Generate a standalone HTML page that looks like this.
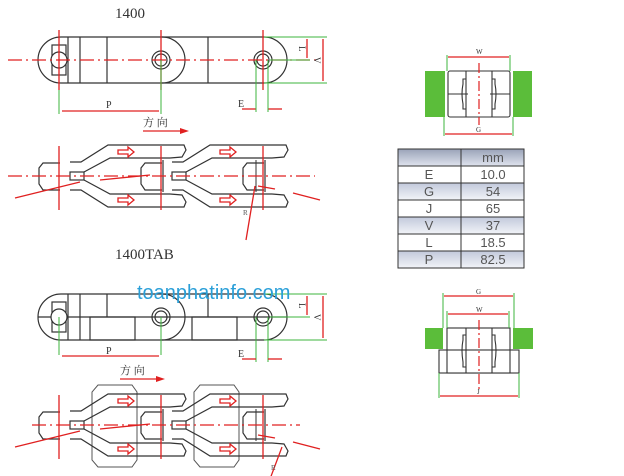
<!DOCTYPE html>
<html><head><meta charset="utf-8"><style>
html,body{margin:0;padding:0;background:#fff;}
svg{display:block;font-family:"Liberation Serif","Noto Serif CJK SC",serif;}
</style></head><body>
<svg width="624" height="476" viewBox="0 0 624 476" xmlns="http://www.w3.org/2000/svg">
<defs>
<g id="linkB" fill="none" stroke="#333" stroke-width="1.2">
  <polyline points="70,162 81,162 108,145 184,145 186,150 182,157 170,158"/>
  <polyline points="84,172 110,158 170,158"/>
  <polyline points="70,190 81,190 108,207 184,207 186,202 182,195 170,194"/>
  <polyline points="84,180 110,194 170,194"/>
  <polyline points="162,163 145,163 141,168 141,184 145,190 162,190"/>
  <rect x="70" y="172" width="14" height="8"/>
  <line x1="163" y1="160" x2="163" y2="192"/>
</g>
<g id="redB" stroke="#e02020" stroke-width="1.3" fill="#fff">
  <path d="M118,150 h10 v-3 l6,5 l-6,5 v-3 h-10z"/>
  <path d="M118,198 h10 v-3 l6,5 l-6,5 v-3 h-10z"/>
</g>
</defs>

<!-- ===== 1400 ===== -->
<text x="115" y="18" font-size="15" fill="#333">1400</text>
<g fill="none" stroke="#333" stroke-width="1.2">
  <path d="M61,37 H264 A23,23 0 0 1 264,83 H61 A23,23 0 0 1 61,37 Z"/>
  <path d="M162,37 A23,23 0 0 1 162,83"/>
  <line x1="68" y1="37" x2="68" y2="83"/><line x1="80" y1="37" x2="80" y2="83"/>
  <line x1="107" y1="37" x2="107" y2="83"/><line x1="208" y1="37" x2="208" y2="83"/>
  <rect x="52" y="45" width="14" height="30"/>
  <circle cx="59" cy="60" r="8" fill="#fff"/>
  <circle cx="161" cy="60" r="9"/><circle cx="161" cy="60" r="6"/>
  <circle cx="263" cy="60" r="9"/><circle cx="263" cy="60" r="6"/>
</g>
<g stroke="#e02020" stroke-width="1.3" fill="none">
  <line x1="8" y1="60" x2="320" y2="60" stroke-dasharray="14,4,2,4"/>
  <line x1="59" y1="30" x2="59" y2="90"/><line x1="161" y1="30" x2="161" y2="90"/><line x1="263" y1="30" x2="263" y2="90"/>
  <line x1="62" y1="111" x2="159" y2="111"/>
  <line x1="242" y1="109" x2="256" y2="109"/><line x1="268" y1="109" x2="282" y2="109"/>
  <line x1="307" y1="39" x2="307" y2="58"/><line x1="323" y1="39" x2="323" y2="81"/>
</g>
<g stroke="#3cb43c" stroke-width="1">
  <line x1="59" y1="90" x2="59" y2="114"/><line x1="161" y1="60" x2="161" y2="114"/>
  <line x1="256" y1="60" x2="256" y2="112"/><line x1="268" y1="60" x2="268" y2="112"/>
  <line x1="264" y1="37" x2="327" y2="37"/><line x1="270" y1="60" x2="310" y2="60"/><line x1="264" y1="83" x2="327" y2="83"/>
</g>
<text x="106" y="108" font-size="10" fill="#333">P</text>
<text x="238" y="107" font-size="10" fill="#333">E</text>
<text x="299" y="52" font-size="9" fill="#333" transform="rotate(90 302 49)">L</text>
<text x="314" y="63" font-size="9" fill="#333" transform="rotate(90 317 60)">V</text>
<text x="143" y="126" font-size="11" fill="#333">方 向</text>
<line x1="143" y1="131" x2="182" y2="131" stroke="#e02020" stroke-width="1.3"/>
<path d="M180,128 L189,131 L180,134Z" fill="#e02020"/>

<!-- bottom view 1 -->
<polyline points="60,163 43,163 39,168 39,184 43,190 60,190" fill="none" stroke="#333" stroke-width="1.2"/>
<use href="#linkB"/><use href="#linkB" x="102"/>
<line x1="256" y1="160" x2="256" y2="192" stroke="#333"/>
<use href="#redB"/><use href="#redB" x="102"/>
<g stroke="#e02020" stroke-width="1.3">
  <line x1="8" y1="176" x2="315" y2="176" stroke-dasharray="14,4,2,4"/>
  <line x1="59" y1="146" x2="59" y2="210"/><line x1="161" y1="146" x2="161" y2="210"/><line x1="263" y1="146" x2="263" y2="210"/>
  <line x1="15" y1="198" x2="80" y2="182"/><line x1="100" y1="180" x2="150" y2="175"/>
  <line x1="258" y1="186" x2="275" y2="189"/><line x1="293" y1="193" x2="320" y2="200"/>
  <line x1="255" y1="186" x2="246" y2="240"/>
</g>
<text x="243" y="215" font-size="7" fill="#555">R</text>

<!-- ===== 1400TAB ===== -->
<text x="115" y="259" font-size="15" fill="#333">1400TAB</text>
<g fill="none" stroke="#333" stroke-width="1.2">
  <path d="M61,294 H264 A23,23 0 0 1 264,340 H61 A23,23 0 0 1 61,294 Z"/>
  <path d="M162,294 A23,23 0 0 1 162,340"/>
  <line x1="68" y1="294" x2="68" y2="340"/><line x1="80" y1="294" x2="80" y2="340"/>
  <line x1="107" y1="294" x2="107" y2="317"/><line x1="208" y1="294" x2="208" y2="317"/>
  <line x1="38" y1="317" x2="287" y2="317"/>
  <rect x="90" y="317" width="45" height="23"/><rect x="192" y="317" width="45" height="23"/>
  <rect x="52" y="302" width="14" height="30"/>
  <circle cx="59" cy="317" r="8" fill="#fff"/>
  <circle cx="161" cy="317" r="9"/><circle cx="161" cy="317" r="6"/>
  <circle cx="263" cy="317" r="9"/><circle cx="263" cy="317" r="6"/>
</g>
<g stroke="#3cb43c" stroke-width="1">
  <line x1="59" y1="317" x2="59" y2="355"/><line x1="161" y1="317" x2="161" y2="355"/>
  <line x1="256" y1="317" x2="256" y2="362"/><line x1="268" y1="317" x2="268" y2="362"/>
  <line x1="264" y1="294" x2="327" y2="294"/><line x1="270" y1="317" x2="310" y2="317"/><line x1="264" y1="340" x2="327" y2="340"/>
</g>
<g stroke="#e02020" stroke-width="1.3">
  <line x1="62" y1="356" x2="159" y2="356"/>
  <line x1="242" y1="359" x2="256" y2="359"/><line x1="268" y1="359" x2="282" y2="359"/>
  <line x1="307" y1="296" x2="307" y2="315"/><line x1="323" y1="296" x2="323" y2="338"/>
</g>
<text x="106" y="354" font-size="10" fill="#333">P</text>
<text x="238" y="357" font-size="10" fill="#333">E</text>
<text x="299" y="309" font-size="9" fill="#333" transform="rotate(90 302 306)">L</text>
<text x="314" y="320" font-size="9" fill="#333" transform="rotate(90 317 317)">V</text>
<text x="120" y="374" font-size="11" fill="#333">方 向</text>
<line x1="120" y1="379" x2="158" y2="379" stroke="#e02020" stroke-width="1.3"/>
<path d="M156,376 L165,379 L156,382Z" fill="#e02020"/>

<!-- bottom view 2 (TAB) -->
<g fill="none" stroke="#555" stroke-width="1">
  <polygon points="98,385 132,385 137,392 137,460 132,467 98,467 92,460 92,392"/>
  <polygon points="200,385 234,385 239,392 239,460 234,467 200,467 194,460 194,392"/>
</g>
<g transform="translate(0,249)">
<polyline points="60,163 43,163 39,168 39,184 43,190 60,190" fill="#fff" stroke="#333" stroke-width="1.2"/>
<use href="#linkB"/><use href="#linkB" x="102"/>
<line x1="256" y1="160" x2="256" y2="192" stroke="#333"/>
<use href="#redB"/><use href="#redB" x="102"/>
<g stroke="#e02020" stroke-width="1.3">
  <line x1="32" y1="176" x2="300" y2="176" stroke-dasharray="14,4,2,4"/>
  <line x1="59" y1="146" x2="59" y2="210"/><line x1="161" y1="146" x2="161" y2="210"/><line x1="263" y1="146" x2="263" y2="210"/>
  <line x1="15" y1="198" x2="80" y2="182"/><line x1="100" y1="180" x2="150" y2="175"/>
  <line x1="258" y1="186" x2="275" y2="189"/><line x1="293" y1="193" x2="320" y2="200"/>
  <line x1="282" y1="198" x2="270" y2="230"/>
</g>
</g>
<text x="271" y="470" font-size="7" fill="#555">R</text>

<!-- watermark -->
<text x="137" y="299" font-size="20" fill="#2a9fd8" font-family="Liberation Sans, sans-serif">toanphatinfo.com</text>

<!-- ===== right top cross section ===== -->
<rect x="425" y="71" width="20" height="46" fill="#5bbd3a"/>
<rect x="513" y="71" width="19" height="46" fill="#5bbd3a"/>
<g fill="none" stroke="#333" stroke-width="1.1">
  <rect x="448" y="71" width="62" height="46" rx="2"/>
  <line x1="466" y1="71" x2="466" y2="117"/><line x1="492" y1="71" x2="492" y2="117"/>
  <line x1="448" y1="94" x2="468" y2="94"/><line x1="490" y1="94" x2="510" y2="94"/>
  <path d="M466,79 h-3 v5 q-2,10 0,20 v5 h3"/><path d="M492,79 h3 v5 q2,10 0,20 v5 h-3"/>
</g>
<g stroke="#3cb43c" stroke-width="1"><line x1="447" y1="55" x2="447" y2="71"/><line x1="510" y1="55" x2="510" y2="71"/><line x1="444" y1="117" x2="444" y2="136"/><line x1="513" y1="117" x2="513" y2="136"/></g>
<g stroke="#e02020" stroke-width="1.2">
  <line x1="448" y1="57" x2="509" y2="57"/><line x1="445" y1="134" x2="512" y2="134"/>
  <line x1="479" y1="63" x2="479" y2="125" stroke-dasharray="10,3,2,3"/>
</g>
<text x="476" y="54" font-size="7" fill="#333">W</text>
<text x="476" y="132" font-size="7" fill="#333">G</text>

<!-- table -->
<defs><linearGradient id="hd" x1="0" y1="0" x2="0" y2="1"><stop offset="0" stop-color="#9aa3b8"/><stop offset="1" stop-color="#dfe3ee"/></linearGradient>
<linearGradient id="sh" x1="0" y1="0" x2="0" y2="1"><stop offset="0" stop-color="#c2c9db"/><stop offset="1" stop-color="#f2f4f8"/></linearGradient></defs>
<g stroke="#333" stroke-width="1">
  <rect x="398" y="149" width="126" height="17" fill="url(#hd)"/>
  <rect x="398" y="166" width="126" height="17" fill="#fff"/>
  <rect x="398" y="183" width="126" height="17" fill="url(#sh)"/>
  <rect x="398" y="200" width="126" height="17" fill="#fff"/>
  <rect x="398" y="217" width="126" height="17" fill="url(#sh)"/>
  <rect x="398" y="234" width="126" height="17" fill="#fff"/>
  <rect x="398" y="251" width="126" height="17" fill="url(#sh)"/>
  <line x1="461" y1="149" x2="461" y2="268"/>
</g>
<g font-size="13" fill="#555" text-anchor="middle" font-family="Liberation Sans, sans-serif">
  <text x="493" y="162">mm</text>
  <text x="429" y="179">E</text><text x="493" y="179">10.0</text>
  <text x="429" y="196">G</text><text x="493" y="196">54</text>
  <text x="429" y="213">J</text><text x="493" y="213">65</text>
  <text x="429" y="230">V</text><text x="493" y="230">37</text>
  <text x="429" y="247">L</text><text x="493" y="247">18.5</text>
  <text x="429" y="264">P</text><text x="493" y="264">82.5</text>
</g>

<!-- right bottom cross section -->
<rect x="425" y="328" width="18" height="21" fill="#5bbd3a"/>
<rect x="513" y="328" width="20" height="21" fill="#5bbd3a"/>
<g fill="none" stroke="#333" stroke-width="1.1">
  <rect x="447" y="328" width="63" height="45"/>
  <rect x="439" y="350" width="80" height="23" fill="#fff"/>
  <line x1="447" y1="350" x2="447" y2="373"/><line x1="510" y1="350" x2="510" y2="373"/>
  <line x1="466" y1="328" x2="466" y2="373"/><line x1="492" y1="328" x2="492" y2="373"/>
  <path d="M466,335 h-3 v5 q-2,10 0,22 v5 h3"/><path d="M492,335 h3 v5 q2,10 0,22 v5 h-3"/>
</g>
<g stroke="#3cb43c" stroke-width="1"><line x1="443" y1="293" x2="443" y2="328"/><line x1="514" y1="293" x2="514" y2="328"/><line x1="447" y1="311" x2="447" y2="328"/><line x1="509" y1="311" x2="509" y2="328"/><line x1="439" y1="373" x2="439" y2="398"/><line x1="519" y1="373" x2="519" y2="398"/></g>
<g stroke="#e02020" stroke-width="1.2">
  <line x1="444" y1="296" x2="513" y2="296"/><line x1="448" y1="314" x2="508" y2="314"/><line x1="440" y1="396" x2="518" y2="396"/>
  <line x1="479" y1="320" x2="479" y2="390" stroke-dasharray="10,3,2,3"/>
</g>
<text x="476" y="294" font-size="7" fill="#333">G</text>
<text x="476" y="312" font-size="7" fill="#333">W</text>
<text x="477" y="394" font-size="7" fill="#333">J</text>
</svg>
</body></html>
